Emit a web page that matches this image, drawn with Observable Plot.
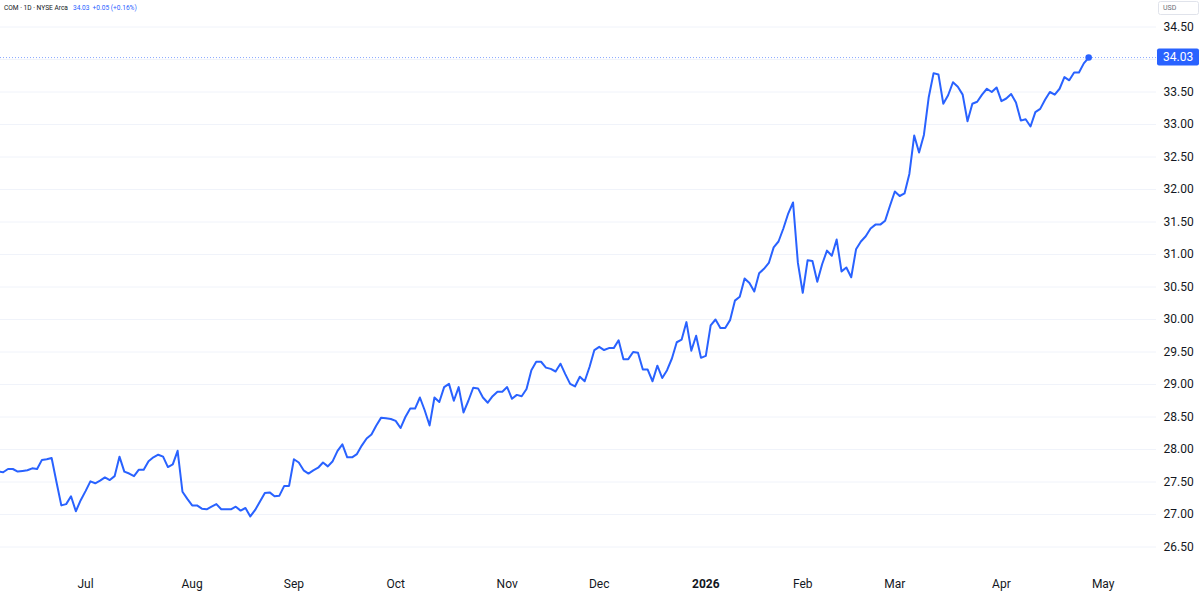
<!DOCTYPE html>
<html>
<head>
<meta charset="utf-8">
<script src="https://cdn.jsdelivr.net/npm/d3@7"></script>
<script src="https://cdn.jsdelivr.net/npm/@observablehq/plot@0.6"></script>
<style>
  html, body { margin: 0; padding: 0; background: #ffffff; }
  #chart svg { display: block; }
</style>
</head>
<body>
<div id="chart"></div>
<script>
// ---- data ----
const symbolLabel = "COM · 1D · NYSE Arca";
const lastPriceLabel = "34.03";
const changeLabel = "+0.05 (+0.16%)";
const currencyLabel = "USD";
const firstSession = "2025-06-04";
const marketHolidays = ["2025-06-19","2025-07-04","2025-09-01","2025-11-27","2025-12-25",
  "2026-01-01","2026-01-19","2026-02-16","2026-04-03","2026-05-25"];
const closes = [
  27.66,27.65,27.70,27.70,27.66,27.67,27.68,27.71,27.70,27.84,
  27.85,27.87,27.50,27.14,27.16,27.28,27.05,27.22,27.36,27.51,
  27.48,27.52,27.57,27.53,27.59,27.89,27.66,27.63,27.59,27.69,
  27.69,27.82,27.88,27.92,27.89,27.73,27.77,27.98,27.35,27.24,
  27.14,27.14,27.09,27.08,27.12,27.16,27.08,27.08,27.08,27.12,
  27.06,27.10,26.97,27.07,27.20,27.33,27.34,27.28,27.29,27.44,
  27.44,27.85,27.80,27.68,27.63,27.68,27.72,27.80,27.74,27.82,
  27.98,28.08,27.88,27.88,27.93,28.06,28.17,28.23,28.37,28.49,
  28.48,28.47,28.44,28.33,28.50,28.63,28.63,28.80,28.60,28.37,
  28.80,28.73,28.96,29.01,28.75,28.96,28.57,28.75,28.95,28.94,
  28.80,28.72,28.82,28.89,28.89,28.96,28.78,28.84,28.82,28.93,
  29.22,29.35,29.35,29.26,29.24,29.20,29.32,29.16,29.01,28.97,
  29.12,29.05,29.27,29.53,29.58,29.53,29.56,29.56,29.68,29.39,
  29.39,29.50,29.49,29.23,29.23,29.05,29.29,29.10,29.22,29.40,
  29.65,29.69,29.96,29.52,29.75,29.41,29.44,29.91,30.00,29.87,
  29.87,29.99,30.29,30.35,30.63,30.56,30.43,30.71,30.78,30.87,
  31.11,31.20,31.40,31.63,31.80,30.87,30.41,30.91,30.90,30.58,
  30.85,31.06,30.98,31.23,30.74,30.80,30.65,31.08,31.20,31.28,
  31.40,31.46,31.46,31.52,31.75,31.97,31.90,31.94,32.24,32.83,
  32.57,32.84,33.42,33.79,33.77,33.32,33.45,33.65,33.58,33.46,
  33.05,33.32,33.35,33.46,33.55,33.50,33.57,33.36,33.40,33.47,
  33.34,33.06,33.08,32.97,33.19,33.24,33.38,33.50,33.46,33.55,
  33.73,33.68,33.80,33.80,33.94,34.03
];
const gridTicks = [26.5,27,27.5,28,28.5,29,29.5,30,30.5,31,31.5,32,32.5,33,33.5,34,34.5];
const labelTicks = [26.5,27,27.5,28,28.5,29,29.5,30,30.5,31,31.5,32,32.5,33,33.5,34.5];
const monthLabels = ["Jul","Aug","Sep","Oct","Nov","Dec","2026","Feb","Mar","Apr","May"];
const yearLabels = ["2026"];

// ---- trading calendar (bar index axis like the source) ----
function sessions(start, n) {
  const out = [];
  const d = new Date(start + "T00:00:00Z");
  while (out.length < n) {
    const dow = d.getUTCDay();
    const s = d.toISOString().slice(0, 10);
    if (dow !== 0 && dow !== 6 && !marketHolidays.includes(s)) out.push(new Date(d));
    d.setUTCDate(d.getUTCDate() + 1);
  }
  return out;
}
const cal = sessions(firstSession, 260);
const monthStarts = [];
for (let k = 1; k < cal.length && monthStarts.length < monthLabels.length; k++) {
  if (cal[k].getUTCMonth() !== cal[k - 1].getUTCMonth()) monthStarts.push(k);
}
const tickLabel = new Map(monthStarts.map((k, j) => [k, monthLabels[j]]));
const normalTicks = monthStarts.filter(k => !yearLabels.includes(tickLabel.get(k)));
const boldTicks = monthStarts.filter(k => yearLabels.includes(tickLabel.get(k)));

const data = closes.map((v, i) => ({i, date: cal[i], v}));
const last = data[data.length - 1];

const W = 1200, H = 599;
const font = "Roboto, 'Liberation Sans', sans-serif";
const blue = "#2962FF";
const ink = "#131722";

const chart = Plot.plot({
  width: W, height: H,
  marginTop: 0, marginBottom: 34, marginLeft: 0, marginRight: 44,
  style: {fontFamily: font, background: "#ffffff", color: ink, overflow: "visible"},
  x: {type: "linear", domain: [0.45, 239.0]},
  y: {domain: [26.2154, 34.9077]},
  marks: [
    Plot.gridY(gridTicks, {stroke: "#f0f3fa", strokeOpacity: 1, strokeWidth: 1}),
    Plot.ruleY([last.v], {stroke: blue, strokeOpacity: 0.55, strokeDasharray: "1,2", strokeWidth: 1}),
    Plot.line(data, {x: "i", y: "v", stroke: blue, strokeWidth: 2, strokeLinejoin: "round", clip: true}),
    Plot.dot([last], {x: "i", y: "v", r: 3.3, fill: blue, stroke: null}),
    Plot.axisY(labelTicks, {anchor: "right", tickSize: 0, tickPadding: 7, fontSize: 12,
      tickFormat: d3.format(".2f"), label: null, fill: ink}),
    Plot.axisX(normalTicks, {anchor: "bottom", tickSize: 0, tickPadding: 14, fontSize: 12,
      tickFormat: k => tickLabel.get(k), label: null, fill: ink}),
    Plot.axisX(boldTicks, {anchor: "bottom", tickSize: 0, tickPadding: 14, fontSize: 12,
      fontWeight: "bold", tickFormat: k => tickLabel.get(k), label: null, fill: ink})
  ]
});
document.getElementById("chart").appendChild(chart);

// ---- overlays positioned via Plot's scales ----
const svg = d3.select(chart);
const yS = chart.scale("y");
const xr = chart.scale("x").range;
const plotRight = Math.max(...xr);
const ly = yS.apply(last.v);

// last price badge
const badge = svg.append("g").attr("text-anchor", "start");
badge.append("rect").attr("x", plotRight + 1).attr("y", ly - 8.5).attr("width", 42).attr("height", 17)
  .attr("rx", 2).attr("fill", blue);
badge.append("text").attr("x", plotRight + 7).attr("y", ly).attr("dy", "0.35em")
  .attr("text-anchor", "start")
  .attr("fill", "#ffffff").attr("font-size", 12).attr("font-family", font).text(lastPriceLabel);

// currency box
const cur = svg.append("g").attr("text-anchor", "start");
cur.append("rect").attr("x", plotRight + 2.5).attr("y", 1.5).attr("width", 40).attr("height", 13)
  .attr("rx", 2).attr("fill", "#ffffff").attr("stroke", "#e0e3eb");
cur.append("text").attr("x", plotRight + 7).attr("y", 8).attr("dy", "0.35em")
  .attr("text-anchor", "start")
  .attr("fill", "#6a6d78").attr("font-size", 7).attr("font-family", font).text(currencyLabel);

// legend / title line
const t = svg.append("text").attr("x", 4).attr("y", 7.5).attr("dy", "0.35em")
  .attr("text-anchor", "start")
  .attr("font-size", 6.6).attr("font-family", font);
t.append("tspan").attr("fill", ink).text(symbolLabel);
t.append("tspan").attr("fill", blue).attr("dx", 5).text(lastPriceLabel);
t.append("tspan").attr("fill", blue).attr("dx", 3).text(changeLabel);
</script>
</body>
</html>
